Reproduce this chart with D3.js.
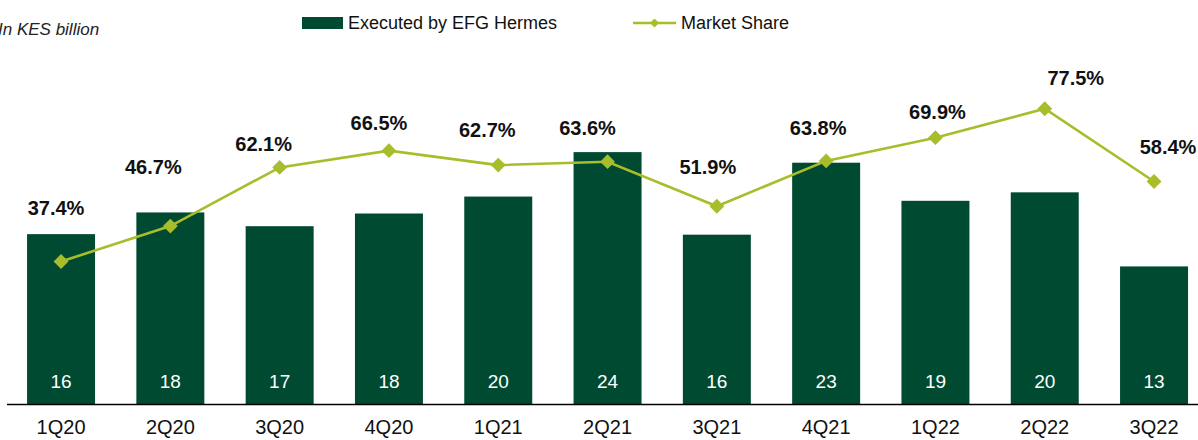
<!DOCTYPE html>
<html>
<head>
<meta charset="utf-8">
<script src="https://cdn.jsdelivr.net/npm/d3@7"></script>
<style>
  body { margin: 0; background: #fff; }
  svg { display: block; font-family: "Liberation Sans", Arial, sans-serif; }
</style>
</head>
<body>
<div id="chartArea"></div>
<script>
// quarterly values
const quarters = ["1Q20", "2Q20", "3Q20", "4Q20", "1Q21", "2Q21", "3Q21", "4Q21", "1Q22", "2Q22", "3Q22"];
const executed = [16.05, 18.1, 16.8, 18.0, 19.6, 23.8, 16.0, 22.8, 19.2, 20.0, 13.0];
const marketShare = [37.4, 46.7, 62.1, 66.5, 62.7, 63.6, 51.9, 63.8, 69.9, 77.5, 58.4];

// hand placement of the % labels relative to their marker (layout only)
const pctLabelDx = [-5, -17, -16, -10, -11, -20, -9, -8, 2, 31, 14];
const pctLabelDy = [-54, -59, -23, -28, -35, -34, -39, -33, -26, -31, -34];

const width = 1198;
const height = 440;
const baseY = 404;
const barColor = "#004a32";
const lineColor = "#a9bd2b";

const svg = d3.select("#chartArea")
  .append("svg")
  .attr("width", width)
  .attr("height", height);

// X scale
const xScale = d3.scaleBand()
  .domain(quarters)
  .range([6.4, 1208.7])
  .paddingInner(0.378)
  .paddingOuter(0.189);

// Y scales (bars in KES bn, line in %)
const yBar = d3.scaleLinear().domain([0, 36]).range([baseY, 23]);
const yPct = d3.scaleLinear().domain([0, 100]).range([baseY, 23]);

const data = quarters.map((q, i) => ({ q, i, v: executed[i], p: marketShare[i] }));
const cx = (d) => xScale(d.q) + xScale.bandwidth() / 2;

// Bars
svg.selectAll(".bar")
  .data(data)
  .join("rect")
  .attr("class", "bar")
  .attr("x", (d) => xScale(d.q))
  .attr("y", (d) => yBar(d.v))
  .attr("width", xScale.bandwidth())
  .attr("height", (d) => baseY - yBar(d.v))
  .attr("fill", barColor);

// Bar value labels
svg.selectAll(".barLabel")
  .data(data)
  .join("text")
  .attr("class", "barLabel")
  .attr("x", cx)
  .attr("y", baseY - 23)
  .attr("dy", "0.35em")
  .attr("text-anchor", "middle")
  .attr("fill", "#fff")
  .style("font-size", "19px")
  .text((d) => d3.format(".0f")(d.v));

// Baseline axis
const xAxis = svg.append("g")
  .attr("transform", `translate(0, ${baseY})`)
  .call(d3.axisBottom(xScale).tickSize(0).tickPadding(16));
xAxis.select(".domain").attr("d", `M7,0.5H${width}`).attr("stroke", "#000").attr("stroke-width", 1.3);
xAxis.selectAll("text")
  .style("font-size", "20px")
  .style("font-family", "'Liberation Sans', Arial, sans-serif")
  .attr("fill", "#111");

// Market share line
svg.append("path")
  .datum(data)
  .attr("fill", "none")
  .attr("stroke", lineColor)
  .attr("stroke-width", 2.6)
  .attr("d", d3.line().x(cx).y((d) => yPct(d.p)));

const diamond = d3.symbol().type(d3.symbolSquare).size(110);
svg.selectAll(".marker")
  .data(data)
  .join("path")
  .attr("class", "marker")
  .attr("d", diamond)
  .attr("transform", (d) => `translate(${cx(d)}, ${yPct(d.p)}) rotate(45)`)
  .attr("fill", lineColor);

// Percent labels
svg.selectAll(".pctLabel")
  .data(data)
  .join("text")
  .attr("class", "pctLabel")
  .attr("x", (d) => cx(d) + pctLabelDx[d.i])
  .attr("y", (d) => yPct(d.p) + pctLabelDy[d.i])
  .attr("dy", "0.35em")
  .attr("text-anchor", "middle")
  .attr("fill", "#111")
  .style("font-size", "20px")
  .style("font-weight", "bold")
  .text((d) => d.p.toFixed(1) + "%");

// Unit note
svg.append("text")
  .attr("x", -2)
  .attr("y", 29)
  .attr("dy", "0.35em")
  .style("font-size", "17px")
  .style("font-style", "italic")
  .attr("fill", "#222")
  .text("In KES billion");

// Legend
const legend = svg.append("g");
legend.append("rect")
  .attr("x", 302).attr("y", 17).attr("width", 41).attr("height", 12)
  .attr("fill", barColor);
legend.append("text")
  .attr("x", 348).attr("y", 23).attr("dy", "0.35em")
  .style("font-size", "18px").attr("fill", "#111")
  .text("Executed by EFG Hermes");
legend.append("line")
  .attr("x1", 633).attr("x2", 676).attr("y1", 23).attr("y2", 23)
  .attr("stroke", lineColor).attr("stroke-width", 2.6);
legend.append("path")
  .attr("d", d3.symbol().type(d3.symbolSquare).size(40))
  .attr("transform", "translate(654.5, 23) rotate(45)")
  .attr("fill", lineColor);
legend.append("text")
  .attr("x", 681).attr("y", 23).attr("dy", "0.35em")
  .style("font-size", "18px").attr("fill", "#111")
  .text("Market Share");
</script>
</body>
</html>
